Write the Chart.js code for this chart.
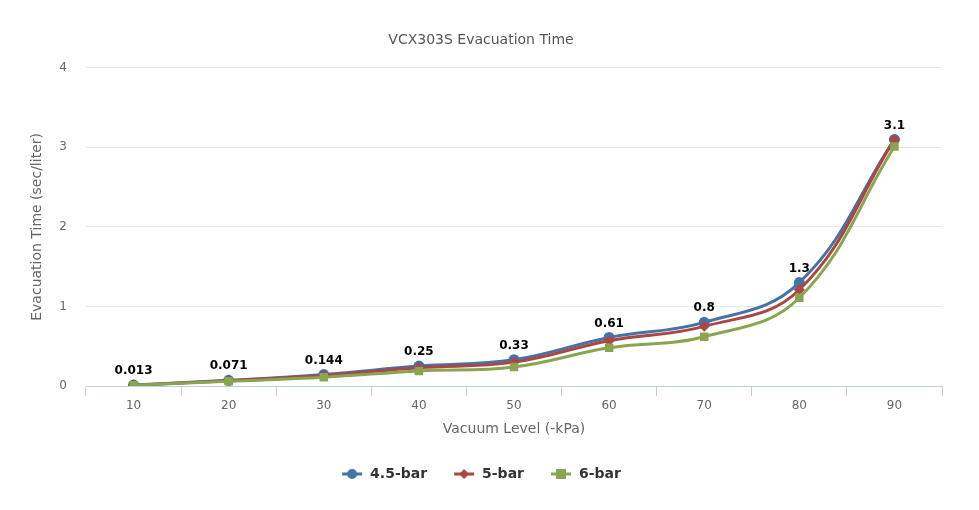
<!DOCTYPE html>
<html>
<head>
<meta charset="utf-8">
<title>VCX303S Evacuation Time</title>
<script src="https://cdn.jsdelivr.net/npm/chart.js@4/dist/chart.umd.min.js"></script>
<style>
  html, body { margin: 0; padding: 0; background: #fff; }
  #chart { display: block; }
</style>
</head>
<body>
<canvas id="chart" width="979" height="510"></canvas>
<script>
// vacuum level categories (-kPa)
var categories = ['10', '20', '30', '40', '50', '60', '70', '80', '90'];

// evacuation time, sec/liter
var bar45 = [0.013, 0.071, 0.144, 0.25, 0.33, 0.61, 0.8, 1.3, 3.1];
var bar5 = [0.011, 0.066, 0.132, 0.23, 0.30, 0.57, 0.75, 1.21, 3.1];
var bar6 = [0.010, 0.060, 0.110, 0.19, 0.24, 0.48, 0.62, 1.11, 3.01];

var yTicks = [0, 1, 2, 3, 4];

var FONT = '"DejaVu Sans", Verdana, sans-serif';

// legend symbol: short line with marker in the middle
function legendSymbol(color, shape) {
    var c = document.createElement('canvas');
    c.width = 22;
    c.height = 12;
    var ctx = c.getContext('2d');
    ctx.strokeStyle = color;
    ctx.lineWidth = 3;
    ctx.beginPath();
    ctx.moveTo(1, 6);
    ctx.lineTo(21, 6);
    ctx.stroke();
    ctx.fillStyle = color;
    ctx.beginPath();
    if (shape == 'circle') {
        ctx.arc(11, 6, 5, 0, Math.PI * 2);
    } else if (shape == 'diamond') {
        ctx.moveTo(11, 1); ctx.lineTo(16, 6); ctx.lineTo(11, 11); ctx.lineTo(6, 6);
    } else {
        ctx.rect(6, 1, 10, 10);
    }
    ctx.fill();
    return c;
}

// value labels above the 4.5-bar points
var valueLabels = {
    id: 'valueLabels',
    afterDatasetsDraw: function(chart) {
        var meta = chart.getDatasetMeta(0);
        var ctx = chart.ctx;
        ctx.save();
        ctx.font = 'bold 12px ' + FONT;
        ctx.fillStyle = '#000';
        ctx.textAlign = 'center';
        ctx.textBaseline = 'bottom';
        meta.data.forEach(function(pt, i) {
            ctx.fillText(String(bar45[i]), pt.x, pt.y - 8);
        });
        ctx.restore();
    }
};

var datasets = [
    { label: '4.5-bar', data: bar45, color: '#4572A7', shape: 'circle', style: 'circle', radius: 5.5, order: 3 },
    { label: '5-bar', data: bar5, color: '#AA4643', shape: 'diamond', style: 'rectRot', radius: 5.5, order: 2 },
    { label: '6-bar', data: bar6, color: '#89A54E', shape: 'square', style: 'rect', radius: 6, order: 1 }
].map(function(s) {
    return {
        label: s.label,
        data: s.data,
        order: s.order,
        borderColor: s.color,
        backgroundColor: s.color,
        borderWidth: 3,
        tension: 0.4,
        pointStyle: s.style,
        pointRadius: s.radius,
        pointBorderWidth: 0,
        legendSymbol: legendSymbol(s.color, s.shape)
    };
});

new Chart(document.getElementById('chart'), {
    type: 'line',
    data: { labels: categories, datasets: datasets },
    plugins: [valueLabels],
    options: {
        responsive: false,
        animation: false,
        devicePixelRatio: 1,
        layout: { padding: { left: 20, right: 37, top: 0, bottom: 19 } },
        plugins: {
            title: {
                display: true,
                text: 'VCX303S Evacuation Time',
                color: '#555',
                font: { family: FONT, size: 14, weight: 'normal' },
                padding: { top: 32, bottom: 19 }
            },
            legend: {
                position: 'bottom',
                labels: {
                    usePointStyle: true,
                    pointStyleWidth: 22,
                    padding: 26,
                    color: '#333',
                    font: { family: FONT, size: 14, weight: 'bold' },
                    sort: function(a, b) { return a.datasetIndex - b.datasetIndex; },
                    generateLabels: function(chart) {
                        return chart.data.datasets.map(function(ds, i) {
                            return {
                                text: ds.label,
                                datasetIndex: i,
                                pointStyle: ds.legendSymbol,
                                fillStyle: ds.borderColor,
                                strokeStyle: ds.borderColor,
                                lineWidth: 0,
                                fontColor: '#333',
                                hidden: !chart.isDatasetVisible(i)
                            };
                        });
                    }
                }
            },
            tooltip: { enabled: false }
        },
        scales: {
            x: {
                offset: true,
                grid: {
                    offset: true,
                    drawOnChartArea: false,
                    drawTicks: true,
                    tickLength: 10,
                    color: '#C0D0E0'
                },
                border: { display: true, color: '#C0D0E0', width: 1 },
                ticks: { color: '#666', font: { family: FONT, size: 12 }, padding: 3 },
                title: {
                    display: true,
                    text: 'Vacuum Level (-kPa)',
                    color: '#666',
                    font: { family: FONT, size: 14 },
                    padding: { top: 4, bottom: 3 }
                },
                afterFit: function(scale) { scale.height = 55; }
            },
            y: {
                min: 0,
                max: 4,
                afterBuildTicks: function(scale) {
                    scale.ticks = yTicks.map(function(v) { return { value: v }; });
                },
                grid: { color: '#E6E6E6', drawTicks: false },
                border: { display: false },
                ticks: { color: '#666', font: { family: FONT, size: 12 }, padding: 19 },
                title: {
                    display: true,
                    text: 'Evacuation Time (sec/liter)',
                    color: '#666',
                    font: { family: FONT, size: 14 },
                    padding: { top: 9, bottom: 0 }
                },
                afterFit: function(scale) { scale.width = 66; }
            }
        }
    }
});
</script>
</body>
</html>
